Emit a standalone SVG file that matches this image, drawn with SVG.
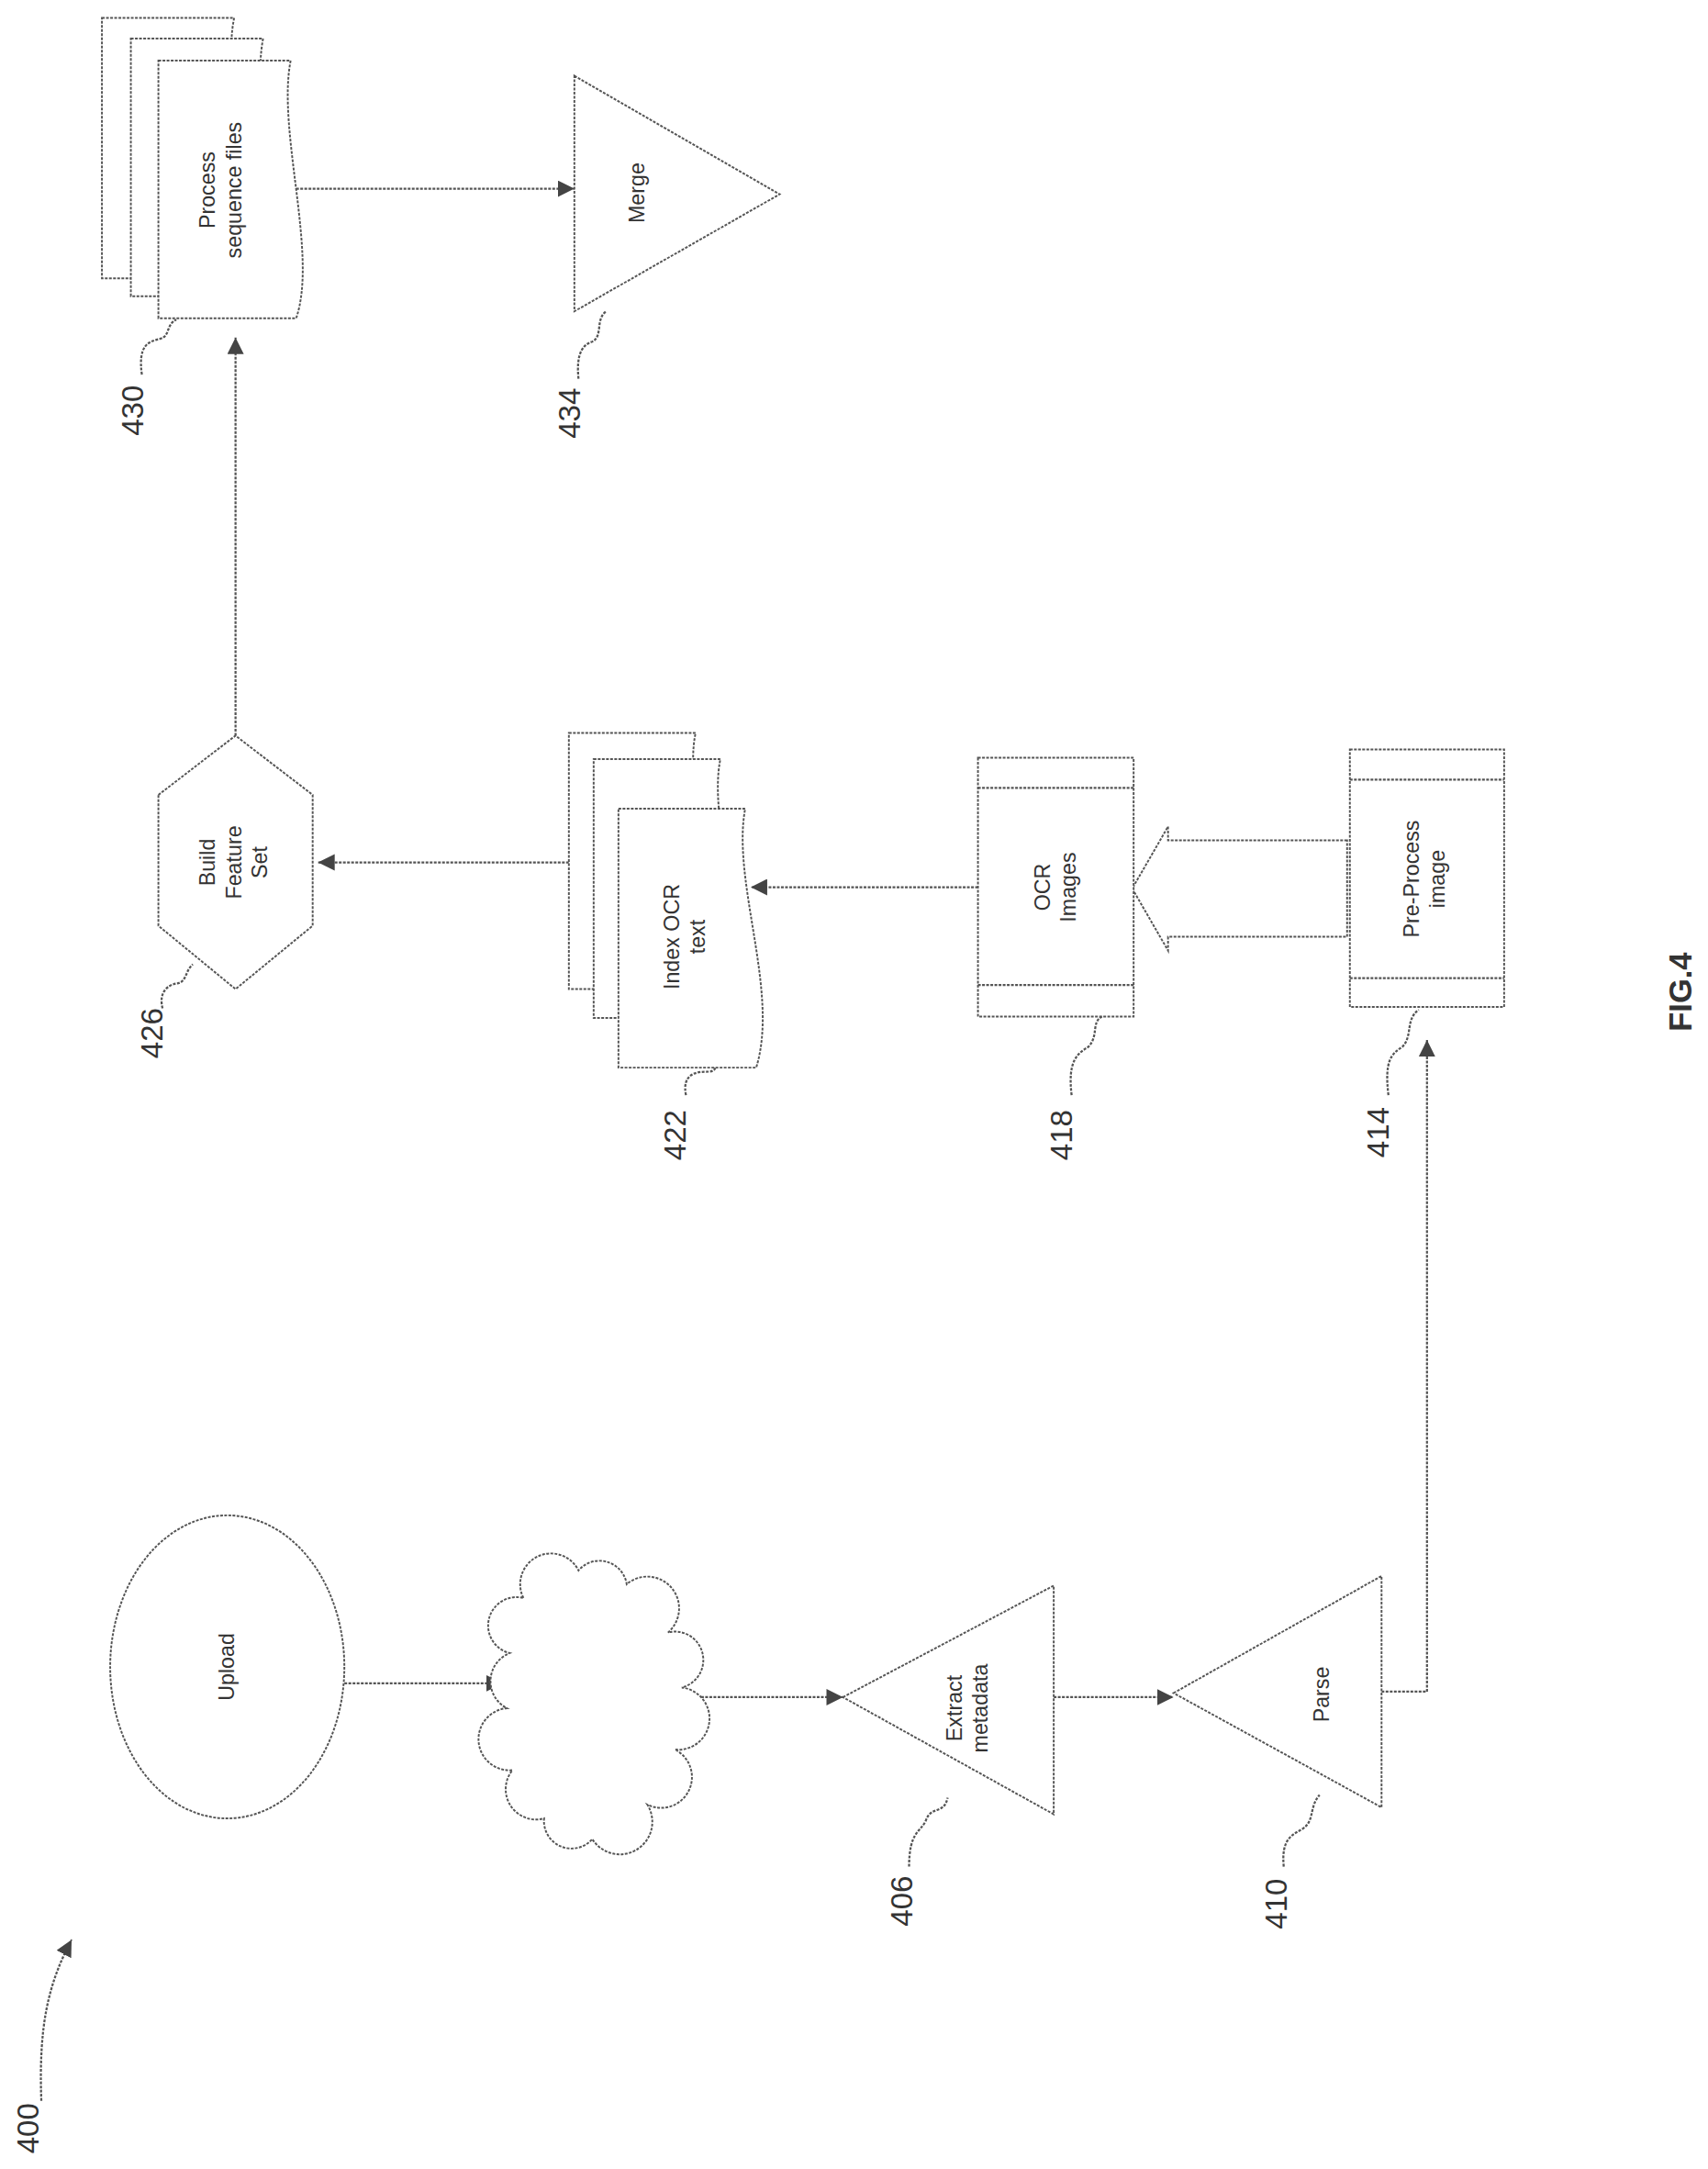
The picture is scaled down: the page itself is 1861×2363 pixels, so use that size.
<svg xmlns="http://www.w3.org/2000/svg" width="1861" height="2363" viewBox="0 0 1861 2363">
<defs>
<style>
.s{fill:#fff;stroke:#555;stroke-width:1.3;stroke-dasharray:2 1}
.l{fill:none;stroke:#555;stroke-width:1.5;stroke-dasharray:2 1}
.t{font-family:"Liberation Sans",Arial,sans-serif;font-size:15.5px;fill:#333;text-anchor:middle}
.n{font-family:"Liberation Sans",Arial,sans-serif;font-size:22px;fill:#333;text-anchor:middle}
</style>
<marker id="b" viewBox="0 0 10 10" refX="10" refY="5" markerWidth="12" markerHeight="12" orient="auto" markerUnits="userSpaceOnUse"><path d="M0 0 L10 5 L0 10 Z" fill="#444"/></marker>
</defs>
<rect width="1861" height="2363" fill="#fff"/>
<g transform="scale(1.5008)">
<g id="connectors">
<path class="l" d="M250 1222 H365" marker-end="url(#b)"/>
<path class="l" d="M500 1232 H612" marker-end="url(#b)"/>
<path class="l" d="M765 1232 H852" marker-end="url(#b)"/>
<path class="l" d="M1003 1228 H1036 V755" marker-end="url(#b)"/>
<path class="l" d="M710 644 H545" marker-end="url(#b)"/>
<path class="l" d="M413 626 H231" marker-end="url(#b)"/>
<path class="l" d="M171 534 V245" marker-end="url(#b)"/>
<path class="l" d="M215 137 H417" marker-end="url(#b)"/>
<path class="s" d="M978 610 H848 V600 L822 645 L848 690 V680 H978 Z"/>
<path class="l" d="M30 1525 C28 1470 35 1440 52 1408" marker-end="url(#b)"/>
</g>
<g id="n400"><text class="n" transform="translate(28,1545) rotate(-90)">400</text></g>
<g id="upload"><ellipse class="s" cx="165" cy="1210" rx="85" ry="110"/><text class="t" transform="translate(170,1210) rotate(-90)">Upload</text></g>
<g id="cloud"><path class="s" d="M380 1160 A20 20 0 0 1 420 1140 A20 20 0 0 1 455 1150 A22 22 0 0 1 485 1185 A20 20 0 0 1 495 1225 A22 22 0 0 1 490 1270 A22 22 0 0 1 470 1310 A22 22 0 0 1 430 1335 A20 20 0 0 1 395 1320 A22 22 0 0 1 372 1285 A22 22 0 0 1 368 1240 A22 22 0 0 1 370 1200 A20 20 0 0 1 380 1160 Z"/></g>
<g id="n406"><path class="s" d="M612 1232 L765 1151 V1317 Z"/>
<text class="t" transform="translate(698,1240) rotate(-90)"><tspan x="0" y="0">Extract</tspan><tspan x="0" y="19">metadata</tspan></text>
<path class="l" d="M660 1355 C660 1330 668 1330 672 1322 C676 1310 685 1318 688 1305"/><text class="n" transform="translate(662,1380) rotate(-90)">406</text></g>
<g id="n410"><path class="s" d="M852 1229 L1003 1144 V1312 Z"/>
<text class="t" transform="translate(965,1230) rotate(-90)">Parse</text>
<path class="l" d="M932 1355 C930 1335 938 1332 945 1328 C955 1322 950 1312 958 1303"/><text class="n" transform="translate(934,1382) rotate(-90)">410</text></g>
<g id="n414"><rect class="s" x="980" y="544" width="112" height="187"/><path class="l" d="M980 566 H1092 M980 710 H1092"/>
<text class="t" transform="translate(1030,638) rotate(-90)"><tspan x="0" y="0">Pre-Process</tspan><tspan x="0" y="19">image</tspan></text>
<path class="l" d="M1008 795 C1005 770 1010 765 1018 760 C1026 752 1020 740 1030 733"/><text class="n" transform="translate(1008,822) rotate(-90)">414</text></g>
<g id="n418"><rect class="s" x="710" y="550" width="113" height="188"/><path class="l" d="M710 572 H823 M710 715 H823"/>
<text class="t" transform="translate(762,644) rotate(-90)"><tspan x="0" y="0">OCR</tspan><tspan x="0" y="19">Images</tspan></text>
<path class="l" d="M778 795 C775 770 782 765 790 760 C798 752 792 742 800 738"/><text class="n" transform="translate(778,824) rotate(-90)">418</text></g>
<g id="n422">
<path class="s" d="M413 532 H505 C495 580 530 660 509 718 H413 Z"/>
<path class="s" d="M431 551 H523 C513 600 548 680 529 739 H431 Z"/>
<path class="s" d="M449 587 H541 C531 640 566 720 549 775 H449 Z"/>
<text class="t" transform="translate(493,680) rotate(-90)"><tspan x="0" y="0">Index OCR</tspan><tspan x="0" y="19">text</tspan></text>
<path class="l" d="M498 795 C495 780 505 778 512 778 C520 778 518 776 520 775"/><text class="n" transform="translate(498,824) rotate(-90)">422</text></g>
<g id="n426"><path class="s" d="M115 577 L171 534 L227 577 V672 L171 718 L115 672 Z"/>
<text class="t" transform="translate(168,626) rotate(-90)"><tspan x="0" y="-12">Build</tspan><tspan x="0" y="7">Feature</tspan><tspan x="0" y="26">Set</tspan></text>
<path class="l" d="M118 732 C115 720 122 715 128 714 C136 713 134 705 140 700"/><text class="n" transform="translate(118,750) rotate(-90)">426</text></g>
<g id="n430">
<path class="s" d="M74 13 H170 C160 60 190 150 173 202 H74 Z"/>
<path class="s" d="M95 28 H191 C181 80 211 170 195 215 H95 Z"/>
<path class="s" d="M115 44 H211 C201 95 231 185 215 231 H115 Z"/>
<text class="t" transform="translate(156,138) rotate(-90)"><tspan x="0" y="0">Process</tspan><tspan x="0" y="19">sequence files</tspan></text>
<path class="l" d="M103 272 C100 250 108 248 116 246 C124 244 120 236 128 232"/><text class="n" transform="translate(104,298) rotate(-90)">430</text></g>
<g id="n434"><path class="s" d="M417 55 L566 141 L417 226 Z"/>
<text class="t" transform="translate(468,140) rotate(-90)">Merge</text>
<path class="l" d="M420 275 C418 255 424 250 430 248 C438 244 432 232 440 226"/><text class="n" transform="translate(421,300) rotate(-90)">434</text></g>
<g id="fig"><text transform="translate(1228,720) rotate(-90)" style="font-family:'Liberation Sans',Arial,sans-serif;font-size:23px;font-weight:bold;fill:#333;text-anchor:middle">FIG.4</text></g>
</g>
</svg>
